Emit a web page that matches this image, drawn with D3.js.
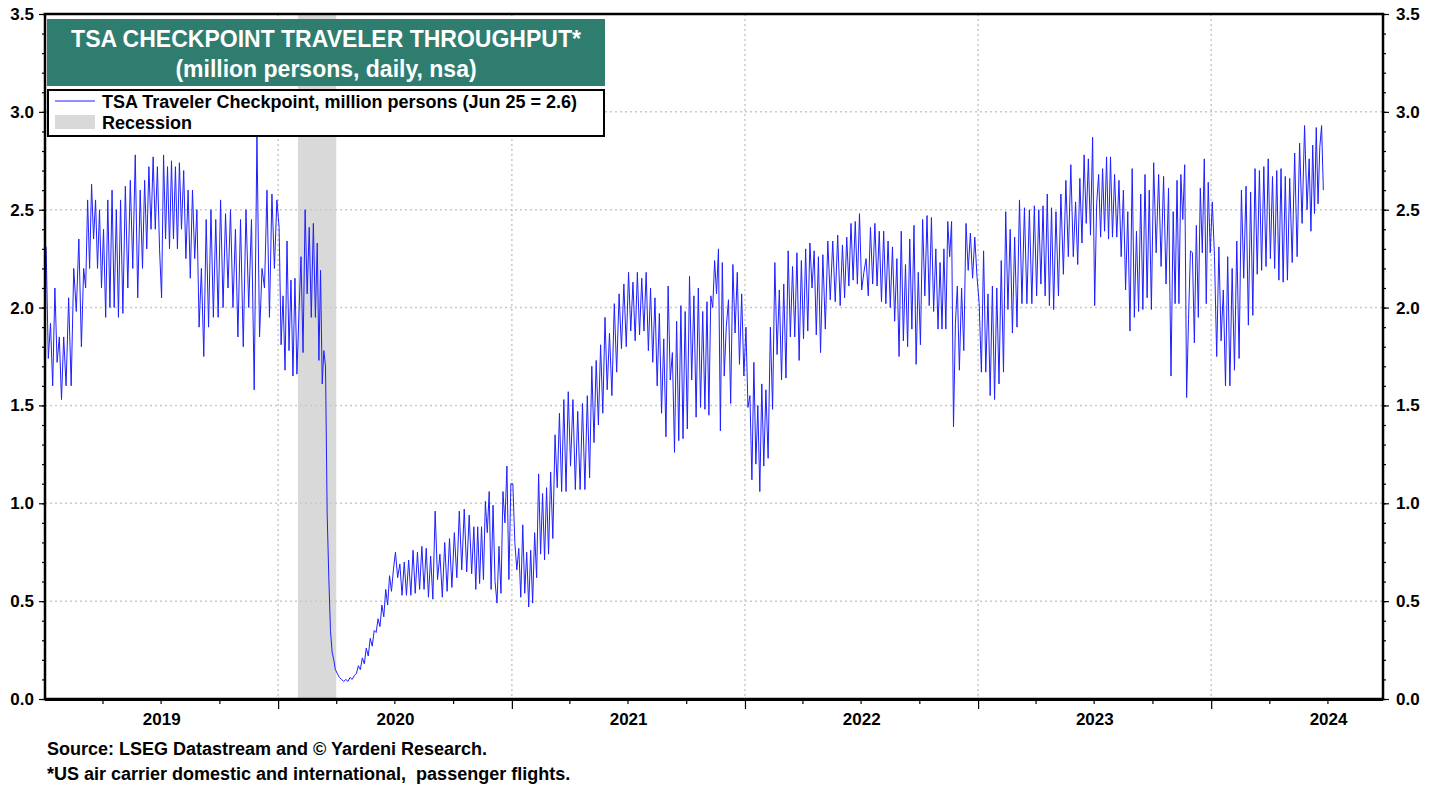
<!DOCTYPE html>
<html>
<head>
<meta charset="utf-8">
<script src="https://cdn.jsdelivr.net/npm/d3@7"></script>
<style>
body { margin: 0; background: #fff; }
svg { font-family: Arial, "Liberation Sans", sans-serif; font-weight: bold; }
</style>
</head>
<body>
<div id="chart"></div>
<script>
// TSA checkpoint throughput, million persons.
// one array per month, alternating weekly peaks and troughs
var tsa2019 = [
	[2.31, 1.74, 1.92, 1.60, 2.10, 1.72, 1.85, 1.53, 1.85],
	[1.60, 2.05, 1.60, 2.20, 1.98, 2.35, 1.80],
	[2.20, 2.10, 2.55, 2.20, 2.63, 2.35, 2.55, 2.20, 2.50, 2.10],
	[2.40, 1.95, 2.55, 2.00, 2.60, 2.00, 2.50, 1.95, 2.55],
	[1.97, 2.62, 2.10, 2.65, 2.20, 2.78, 2.05, 2.60],
	[2.20, 2.65, 2.30, 2.72, 2.40, 2.77, 2.40, 2.72, 2.30],
	[2.05, 2.78, 2.35, 2.72, 2.30, 2.75, 2.35, 2.72, 2.30, 2.74],
	[2.40, 2.70, 2.25, 2.60, 2.15, 2.60, 2.25, 2.50, 1.90],
	[2.20, 1.75, 2.45, 1.90, 2.50, 1.95, 2.45, 1.95],
	[2.55, 2.00, 2.48, 2.10, 2.50, 2.00, 2.40, 1.85],
	[2.45, 1.80, 2.50, 2.00, 2.45, 1.58, 2.88],
	[1.85, 2.20, 2.10, 2.60, 1.95, 2.58, 2.20, 2.55]
];
var tsa2020 = [
	[2.41, 1.81, 2.06, 1.68, 2.34, 1.78, 2.14, 1.65, 2.15, 1.66],
	[1.97, 2.26, 1.77, 2.50, 2.07, 2.41, 1.95, 2.43, 1.95],
	[2.33, 1.73, 2.19, 1.61, 1.78, 1.70, 0.95, 0.62, 0.35, 0.24, 0.20, 0.15],
	[0.13, 0.11, 0.10, 0.09, 0.10, 0.09, 0.11, 0.10, 0.12],
	[0.13, 0.17, 0.15, 0.21, 0.18, 0.26, 0.22, 0.31, 0.27, 0.35],
	[0.34, 0.41, 0.37, 0.48, 0.42, 0.56, 0.48, 0.63, 0.55, 0.66],
	[0.75, 0.62, 0.69, 0.53, 0.70, 0.53, 0.71, 0.53, 0.76],
	[0.54, 0.75, 0.56, 0.78, 0.56, 0.77, 0.52, 0.73, 0.51],
	[0.96, 0.61, 0.74, 0.52, 0.80, 0.55, 0.82, 0.57],
	[0.85, 0.62, 0.96, 0.66, 0.97, 0.65, 0.94, 0.64],
	[0.88, 0.56, 0.88, 0.59, 0.88, 0.61, 1.01, 0.85, 1.06, 0.56],
	[0.99, 0.60, 0.49, 0.78, 0.54, 1.06, 0.90, 1.19, 0.61, 1.10]
];
var tsa2021 = [
	[1.10, 0.80, 0.66, 0.77, 0.52, 0.89, 0.54, 0.75, 0.47, 0.76],
	[0.49, 0.85, 0.62, 1.15, 0.74, 1.05, 0.71, 1.08, 0.74],
	[1.16, 0.82, 1.35, 1.08, 1.46, 1.06, 1.53, 1.06, 1.57],
	[1.19, 1.53, 1.07, 1.47, 1.07, 1.51, 1.07, 1.55],
	[1.13, 1.70, 1.31, 1.73, 1.40, 1.81, 1.46, 1.95, 1.58],
	[1.87, 1.55, 2.02, 1.67, 2.07, 1.79, 2.12, 1.80],
	[2.18, 1.88, 2.13, 1.83, 2.18, 1.86, 2.15, 1.88, 2.18],
	[1.78, 2.10, 1.72, 2.05, 1.60, 1.97, 1.46, 1.84, 1.34],
	[2.11, 1.63, 1.77, 1.26, 1.93, 1.32, 2.01, 1.33, 1.98],
	[1.38, 2.16, 1.63, 2.06, 1.44, 2.10, 1.49, 1.98, 1.48],
	[2.03, 1.45, 2.06, 2.00, 2.24, 2.07, 2.30, 1.37, 2.23, 1.65],
	[1.90, 2.04, 1.51, 2.22, 1.87, 2.18, 1.71, 2.07, 1.65]
];
var tsa2022 = [
	[1.90, 1.49, 1.55, 1.12, 1.72, 1.20, 1.50, 1.06, 1.61, 1.19],
	[1.58, 1.23, 1.90, 1.48, 2.23, 1.76, 2.09, 1.63],
	[2.12, 1.64, 2.29, 1.85, 2.21, 1.85, 2.28, 1.73, 2.24],
	[1.84, 2.30, 1.88, 2.33, 2.10, 2.29, 1.86, 2.26, 1.77],
	[2.27, 1.89, 2.34, 2.04, 2.34, 2.03, 2.37, 2.01],
	[2.32, 2.05, 2.36, 2.11, 2.43, 2.14, 2.44, 2.12, 2.48],
	[2.09, 2.18, 2.25, 2.06, 2.41, 2.12, 2.43, 2.11, 2.39],
	[2.03, 2.39, 2.02, 2.34, 2.00, 2.31, 1.93, 2.25, 1.75],
	[2.39, 1.83, 2.22, 1.80, 2.35, 1.89, 2.42, 1.71, 2.18],
	[1.81, 2.45, 2.06, 2.47, 2.01, 2.46, 1.98, 2.30, 1.89],
	[2.23, 1.89, 2.30, 1.89, 2.44, 2.26, 2.44, 1.39, 1.92, 2.11],
	[1.68, 2.10, 1.78, 2.43, 2.19, 2.38, 2.15, 2.36, 2.16]
];
var tsa2023 = [
	[2.02, 1.67, 2.29, 1.67, 2.07, 1.55, 2.11, 1.53, 2.10],
	[1.61, 2.24, 1.67, 2.49, 1.99, 2.40, 1.87, 2.36],
	[1.90, 2.55, 2.02, 2.51, 2.02, 2.50, 2.02, 2.52],
	[2.06, 2.50, 2.12, 2.52, 2.06, 2.58, 2.01, 2.51, 1.99],
	[2.49, 2.06, 2.58, 2.17, 2.65, 2.26, 2.73, 2.26],
	[2.54, 2.22, 2.66, 2.33, 2.78, 2.43, 2.76, 2.37, 2.87],
	[2.01, 2.53, 2.68, 2.36, 2.71, 2.39, 2.77, 2.35, 2.77, 2.36],
	[2.68, 2.36, 2.65, 2.26, 2.60, 2.09, 2.49, 1.88, 2.71],
	[1.95, 2.39, 1.98, 2.58, 1.99, 2.68, 2.05, 2.60, 1.99],
	[2.74, 2.28, 2.68, 2.21, 2.67, 2.12, 2.61, 1.65],
	[2.49, 2.02, 2.65, 2.02, 2.68, 2.45, 2.73, 1.54, 1.94, 2.29],
	[2.28, 1.82, 2.42, 1.95, 2.61, 2.28, 2.76, 2.02, 2.64, 2.28]
];
var tsa2024 = [
	[2.54, 2.26, 1.75, 2.31, 1.83, 2.09, 1.60, 2.26, 1.60],
	[2.20, 1.68, 2.34, 1.74, 2.60, 2.15, 2.62, 1.91],
	[2.59, 1.96, 2.71, 2.17, 2.70, 2.19, 2.72, 2.21, 2.76],
	[2.25, 2.67, 2.20, 2.70, 2.14, 2.71, 2.13, 2.67, 2.14],
	[2.66, 2.23, 2.79, 2.26, 2.84, 2.43, 2.93, 2.50],
	[2.76, 2.39, 2.83, 2.48, 2.92, 2.53, 2.82, 2.93, 2.60]
];
var years = [2019, 2020, 2021, 2022, 2023, 2024];
var yearData = [tsa2019, tsa2020, tsa2021, tsa2022, tsa2023, tsa2024];
var lastDay = "2024-06-26";
var recession = ["2020-02-01", "2020-04-01"];
var yTicks = [0, 0.5, 1, 1.5, 2, 2.5, 3, 3.5];

var width = 1439, height = 785;
var margin = { top: 14, right: 56, bottom: 86, left: 45 };
var parse = d3.timeParse("%Y-%m-%d");

var svg = d3.select("#chart").append("svg")
	.attr("width", width)
	.attr("height", height);

var x = d3.scaleTime()
	.domain([new Date(2019, 0, 1), new Date(2024, 8, 26)])
	.range([margin.left, width - margin.right]);
var y = d3.scaleLinear()
	.domain([0, 3.5])
	.range([height - margin.bottom, margin.top]);

// flatten months into dated points, spread evenly inside each month
var series = [];
var end = parse(lastDay);
yearData.forEach(function(months, i){
	months.forEach(function(vals, m){
		var t0 = new Date(years[i], m, 1);
		var t1 = new Date(years[i], m + 1, 1);
		if(t1 > end) t1 = end;
		vals.forEach(function(v, j){
			series.push({ date: new Date(+t0 + (j + 0.5) / vals.length * (t1 - t0)), value: v });
		});
	});
});

var x0 = x.range()[0], x1 = x.range()[1], y0 = y.range()[0], y1 = y.range()[1];

// recession shading
svg.append("rect")
	.attr("x", x(parse(recession[0])))
	.attr("y", y1)
	.attr("width", x(parse(recession[1])) - x(parse(recession[0])))
	.attr("height", y0 - y1)
	.attr("fill", "#d9d9d9");

// dotted grid
var grid = svg.append("g")
	.attr("stroke", "#c8c8c8")
	.attr("stroke-width", 1.5)
	.attr("stroke-dasharray", "2,3");
grid.selectAll(".hg")
		.data(yTicks.filter(function(d){ return d > 0 && d < 3.5; }))
	.enter().append("line")
		.attr("x1", x0).attr("x2", x1)
		.attr("y1", function(d){ return y(d); })
		.attr("y2", function(d){ return y(d); });
grid.selectAll(".vg")
		.data(years.slice(1))
	.enter().append("line")
		.attr("y1", y1).attr("y2", y0)
		.attr("x1", function(d){ return x(new Date(d, 0, 1)); })
		.attr("x2", function(d){ return x(new Date(d, 0, 1)); });

svg.append("path")
	.datum(series)
	.attr("fill", "none")
	.attr("stroke", "#1f1fff")
	.attr("stroke-width", 1)
	.attr("d", d3.line().x(function(d){ return x(d.date); }).y(function(d){ return y(d.value); }));

// axes
var yMinor = d3.range(0, 36).map(function(d){ return d / 10; });
svg.append("g")
	.attr("transform", "translate(" + x0 + ",0)")
	.call(d3.axisLeft(y).tickValues(yMinor).tickSize(3).tickFormat(""));
svg.append("g")
	.attr("transform", "translate(" + x0 + ",0)")
	.call(d3.axisLeft(y).tickValues(yTicks).tickSize(6).tickPadding(5).tickFormat(d3.format(".1f")));
svg.append("g")
	.attr("transform", "translate(" + x1 + ",0)")
	.call(d3.axisRight(y).tickValues(yMinor).tickSize(3).tickFormat(""));
svg.append("g")
	.attr("transform", "translate(" + x1 + ",0)")
	.call(d3.axisRight(y).tickValues(yTicks).tickSize(6).tickPadding(7).tickFormat(d3.format(".1f")));

var quarters = [];
years.forEach(function(yr){ quarters.push(new Date(yr, 3, 1), new Date(yr, 6, 1), new Date(yr, 9, 1)); });
svg.append("g")
	.attr("transform", "translate(0," + y0 + ")")
	.call(d3.axisBottom(x).tickValues(quarters.filter(function(d){ return d < x.domain()[1]; })).tickSize(5).tickFormat(""));
svg.append("g")
	.attr("transform", "translate(0," + y0 + ")")
	.call(d3.axisBottom(x).tickValues(years.slice(1).map(function(d){ return new Date(d, 0, 1); })).tickSize(10).tickFormat(""));
svg.append("g")
	.attr("class", "years")
	.attr("transform", "translate(0," + y0 + ")")
	.call(d3.axisBottom(x).tickValues(years.map(function(d){ return new Date(d, 6, 2); })).tickSize(0).tickPadding(14).tickFormat(d3.timeFormat("%Y")));

svg.selectAll(".domain").remove();
svg.selectAll(".tick line").attr("stroke", "#000").attr("stroke-width", 1.2);
svg.selectAll(".tick text")
	.attr("fill", "#000")
	.style("font-size", "17px")
	.style("font-weight", "bold")
	.style("font-family", "Arial, 'Liberation Sans', sans-serif");

// frame
svg.append("rect")
	.attr("x", x0).attr("y", y1)
	.attr("width", x1 - x0).attr("height", y0 - y1)
	.attr("fill", "none").attr("stroke", "#000").attr("stroke-width", 2.5);
svg.append("line")
	.attr("x1", x0).attr("x2", x1).attr("y1", y0 + 0.5).attr("y2", y0 + 0.5)
	.attr("stroke", "#000").attr("stroke-width", 3);

// title box
svg.append("rect")
	.attr("x", 47).attr("y", 19).attr("width", 558).attr("height", 67)
	.attr("fill", "#2e7d6f");
svg.append("text")
	.attr("x", 326).attr("y", 47)
	.attr("text-anchor", "middle").attr("fill", "#fff")
	.style("font-size", "23px")
	.text("TSA CHECKPOINT TRAVELER THROUGHPUT*");
svg.append("text")
	.attr("x", 326).attr("y", 77)
	.attr("text-anchor", "middle").attr("fill", "#fff")
	.style("font-size", "23px")
	.text("(million persons, daily, nsa)");

// legend
svg.append("rect")
	.attr("x", 48).attr("y", 90).attr("width", 556).attr("height", 46)
	.attr("fill", "#fff").attr("stroke", "#000").attr("stroke-width", 2);
svg.append("line")
	.attr("x1", 55).attr("x2", 95).attr("y1", 101).attr("y2", 101)
	.attr("stroke", "#1f1fff").attr("stroke-width", 1);
svg.append("rect")
	.attr("x", 55).attr("y", 115).attr("width", 40).attr("height", 14)
	.attr("fill", "#d9d9d9");
svg.append("text")
	.attr("x", 102).attr("y", 108)
	.style("font-size", "18px")
	.text("TSA Traveler Checkpoint, million persons (Jun 25 = 2.6)");
svg.append("text")
	.attr("x", 102).attr("y", 129)
	.style("font-size", "18px")
	.text("Recession");

// notes
svg.append("text")
	.attr("x", 47).attr("y", 755)
	.style("font-size", "18px")
	.text("Source: LSEG Datastream and \u00a9 Yardeni Research.");
svg.append("text")
	.attr("x", 47).attr("y", 780)
	.style("font-size", "18px")
	.style("white-space", "pre")
	.text("*US air carrier domestic and international,  passenger flights.");
</script>
</body>
</html>
